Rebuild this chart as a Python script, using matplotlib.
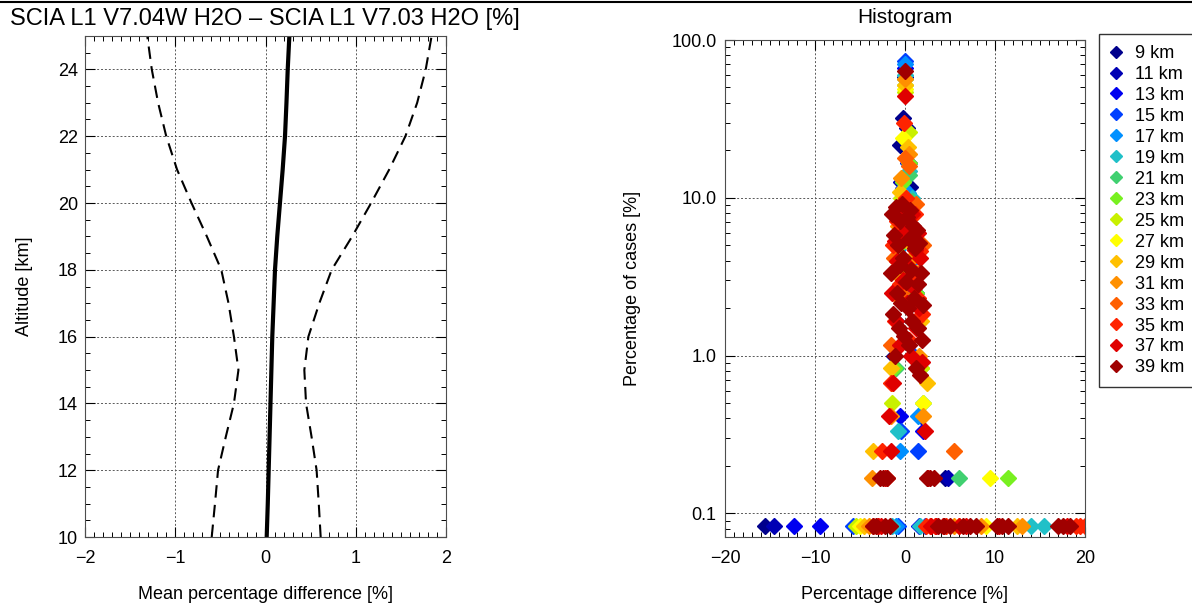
import numpy as np
import matplotlib
matplotlib.use('Agg')
import matplotlib.pyplot as plt
from matplotlib.lines import Line2D
from matplotlib.ticker import MultipleLocator, FixedLocator, FuncFormatter, LogLocator, NullFormatter

plt.rcParams['font.family'] = ['Liberation Sans', 'DejaVu Sans']

# ---- left panel: mean difference profile ----
altitude = [10, 11, 12, 13, 14, 15, 16, 17, 18, 19, 20, 21, 22, 23, 24, 25]
mean_diff = [0.013, 0.025, 0.035, 0.045, 0.055, 0.065, 0.075, 0.09, 0.105, 0.13, 0.16, 0.19, 0.216, 0.232, 0.246, 0.264]
lower = [-0.596, -0.56, -0.526, -0.44, -0.35, -0.30, -0.35, -0.41, -0.49, -0.65, -0.82, -0.98, -1.10, -1.19, -1.26, -1.31]
upper = [0.611, 0.59, 0.566, 0.51, 0.449, 0.43, 0.475, 0.596, 0.733, 0.96, 1.17, 1.37, 1.55, 1.68, 1.775, 1.84]

# ---- right panel: histogram per altitude (counts out of n_cases) ----
n_cases = 1200
hist_alt = [9, 11, 13, 15, 17, 19, 21, 23, 25, 27, 29, 31, 33, 35, 37, 39]
hist_colors = ['#00008C', '#0000B4', '#0000F0', '#0040FF', '#0090FF', '#20C0C8', '#40D070', '#78F020',
               '#C8F000', '#FFFF00', '#FFC000', '#FF9000', '#FF6000', '#FF2400', '#E00000', '#A00000']
hist_x = {
    9: [-15.5, -1.2, -0.5, -0.2, 0.2, 0.6, 1.0, 1.5, 4.5],
    11: [-14.5, -1.0, -0.4, 0.0, 0.4, 0.8, 1.2, 1.8, 4.8],
    13: [-12.3, -9.4, -0.6, -0.2, 0.0, 0.3, 0.7, 1.2, 1.6, 2.0],
    15: [-5.8, -0.8, -0.4, -0.2, 0.0, 0.3, 0.7, 1.0, 1.5, 2.2],
    17: [-1.0, -0.6, -0.3, 0.0, 0.3, 0.6, 1.0, 1.4],
    19: [-1.4, -0.8, -0.3, 0.0, 0.4, 0.8, 1.2, 1.7, 2.0, 14.0, 15.5],
    21: [-1.0, -0.5, 0.0, 0.4, 0.8, 1.2, 1.6, 6.0],
    23: [-1.2, -0.6, -0.2, 0.0, 0.4, 0.8, 1.2, 1.8, 11.5],
    25: [-5.4, -1.4, -0.8, -0.4, 0.0, 0.4, 0.8, 1.2, 1.8],
    27: [-5.0, -1.4, -1.0, -0.5, -0.2, 0.0, 0.4, 0.8, 1.4, 2.0, 9.0, 9.5],
    29: [-4.5, -3.5, -1.5, -1.0, -0.5, 0.0, 0.3, 0.7, 1.2, 1.8, 2.4, 12.5],
    31: [-4.0, -3.7, -1.6, -1.2, -0.8, -0.4, 0.0, 0.4, 0.8, 1.2, 1.6, 2.0, 5.5, 8.5, 13.0],
    33: [-1.6, -1.2, -0.8, -0.4, 0.0, 0.4, 0.8, 1.2, 1.6, 2.0, 5.5, 6.0],
    35: [-3.5, -3.0, -2.5, -2.0, -1.6, -1.35, -1.1, -0.85, -0.6, -0.35, -0.1, 0.15, 0.4, 0.65, 0.9, 1.15,
         1.4, 1.65, 1.9, 2.3, 2.8, 3.3, 4.6, 19.0, 19.5, 20.0],
    37: [-3.0, -2.7, -2.2, -1.8, -1.6, -1.45, -1.3, -1.15, -1.0, -0.85, -0.7, -0.55, -0.4, -0.25, -0.1,
         0.05, 0.2, 0.35, 0.5, 0.65, 0.8, 0.95, 1.1, 1.25, 1.4, 1.55, 1.7, 1.85, 2.2, 2.6, 2.9, 3.5, 4.2,
         6.0, 6.8, 10.5, 18.0],
    39: [-3.6, -3.2, -2.8, -2.4, -2.2, -2.0, -1.7, -1.5, -1.4, -1.3, -1.2, -1.1, -1.0, -0.9, -0.8, -0.7,
         -0.6, -0.5, -0.4, -0.3, -0.2, -0.1, 0.0, 0.1, 0.2, 0.3, 0.4, 0.5, 0.6, 0.7, 0.8, 0.9, 1.0, 1.1,
         1.2, 1.3, 1.4, 1.5, 1.6, 1.7, 1.8, 1.9, 2.0, 2.4, 2.8, 3.2, 3.7, 4.3, 5.0, 6.5, 7.2, 7.9, 10.2,
         10.8, 11.5, 17.0, 17.6, 18.3],
}
hist_counts = {
    9: [1, 12, 259, 384, 330, 140, 50, 20, 2],
    11: [1, 20, 150, 700, 200, 80, 30, 5, 2],
    13: [1, 1, 5, 100, 800, 200, 60, 20, 1, 4],
    15: [1, 1, 4, 138, 888, 120, 30, 12, 3, 1],
    17: [1, 3, 60, 840, 128, 100, 50, 5],
    19: [1, 4, 80, 720, 178, 120, 30, 1, 6, 1, 1],
    21: [10, 40, 680, 168, 115, 40, 10, 2],
    23: [10, 60, 150, 620, 200, 60, 30, 10, 2],
    25: [1, 6, 40, 120, 560, 312, 80, 40, 10],
    27: [1, 8, 30, 100, 288, 588, 100, 40, 20, 6, 1, 2],
    29: [1, 3, 10, 40, 130, 624, 252, 60, 40, 20, 8, 1],
    31: [1, 2, 5, 30, 80, 160, 684, 228, 50, 20, 12, 5, 1, 1, 1],
    33: [14, 50, 90, 30, 214, 192, 70, 110, 40, 60, 3, 1],
    35: [1, 1, 3, 2, 8, 60, 20, 85, 34, 110, 355, 120, 15, 70, 40, 95, 28, 55, 22, 1, 1, 1, 1, 1, 1, 1],
    37: [1, 1, 2, 5, 3, 30, 8, 64, 20, 48, 90, 14, 70, 36, 100, 528, 26, 80, 44, 12, 95, 32, 56, 18, 72,
         24, 50, 11, 4, 2, 1, 1, 1, 1, 1, 1, 1],
    39: [1, 1, 2, 2, 1, 2, 1, 40, 95, 22, 70, 12, 105, 30, 60, 18, 85, 45, 26, 110, 50, 16, 768, 35, 90,
         24, 66, 14, 100, 42, 20, 80, 28, 58, 10, 75, 34, 18, 62, 9, 40, 15, 25, 2, 2, 2, 1, 1, 1, 1, 1,
         1, 1, 1, 1, 1, 1, 1],
}


def style_axis(ax):
    ax.tick_params(which='both', direction='in', top=True, right=True, labelsize=13)
    ax.tick_params(which='major', length=7, width=0.8)
    ax.tick_params(which='minor', length=3.5, width=0.7)
    ax.grid(True, which='major', color='0.35', linestyle=(0, (2, 2)), linewidth=0.7)
    for s in ax.spines.values():
        s.set_color('0.3')
        s.set_linewidth(0.8)


fig = plt.figure(figsize=(11.92, 6.07), dpi=100)

# left panel
ax1 = fig.add_axes([0.0713, 0.1153, 0.3029, 0.8254])
ax1.plot(mean_diff, altitude, color='k', lw=3)
ax1.plot(lower, altitude, color='k', lw=1.5, dashes=(6, 3.5))
ax1.plot(upper, altitude, color='k', lw=1.5, dashes=(6, 3.5))
ax1.set_xlim(-2, 2)
ax1.set_ylim(10, 25)
ax1.xaxis.set_major_locator(MultipleLocator(1))
ax1.xaxis.set_minor_locator(MultipleLocator(0.1))
ax1.yaxis.set_major_locator(MultipleLocator(2))
ax1.yaxis.set_minor_locator(MultipleLocator(0.5))
style_axis(ax1)
ax1.tick_params(axis='x', pad=9)
ax1.tick_params(axis='y', pad=5)
ax1.set_xlabel('Mean percentage difference [%]', fontsize=13, labelpad=14)
ax1.set_ylabel('Altitude [km]', fontsize=13, labelpad=18)
fig.text(0.008, 0.968, 'SCIA L1 V7.04W H2O \u2013 SCIA L1 V7.03 H2O [%]', fontsize=17, ha='left', va='center')

# right panel
ax2 = fig.add_axes([0.6082, 0.1153, 0.3020, 0.8188])
handles = []
for alt, col in zip(hist_alt, hist_colors):
    pct = np.array(hist_counts[alt]) * 100.0 / n_cases
    h, = ax2.plot(hist_x[alt], pct, linestyle='none', marker='D', ms=8.4, color=col, mec=col,
                  label='%d km' % alt, clip_on=True)
    handles.append(h)
ax2.set_yscale('log')
ax2.set_xlim(-20, 20)
ax2.set_ylim(0.0708, 100)
ax2.xaxis.set_major_locator(MultipleLocator(10))
ax2.xaxis.set_minor_locator(MultipleLocator(1))
ax2.yaxis.set_major_locator(FixedLocator([0.1, 1, 10, 100]))
ax2.yaxis.set_major_formatter(FuncFormatter(lambda v, p: '%.1f' % v))
ax2.yaxis.set_minor_locator(LogLocator(base=10, subs=np.arange(2, 10)))
ax2.yaxis.set_minor_formatter(NullFormatter())
style_axis(ax2)
ax2.tick_params(axis='x', pad=9)
ax2.tick_params(axis='y', pad=6)
ax2.set_xlabel('Percentage difference [%]', fontsize=13, labelpad=14)
ax2.set_ylabel('Percentage of cases [%]', fontsize=13, labelpad=22)
ax2.set_title('Histogram', fontsize=15, pad=12)

leg = ax2.legend(handles=handles, loc='upper left', bbox_to_anchor=(1.04, 1.012), fontsize=13,
                 frameon=True, fancybox=False, edgecolor='k', handlelength=0.6, handletextpad=0.8,
                 labelspacing=0.22, borderpad=0.6, borderaxespad=0.0, markerscale=0.7)
leg.get_frame().set_linewidth(1.0)

fig.add_artist(Line2D([0, 1], [0.997, 0.997], transform=fig.transFigure, color='k', lw=1.5))

fig.savefig('out.png', dpi=100)
